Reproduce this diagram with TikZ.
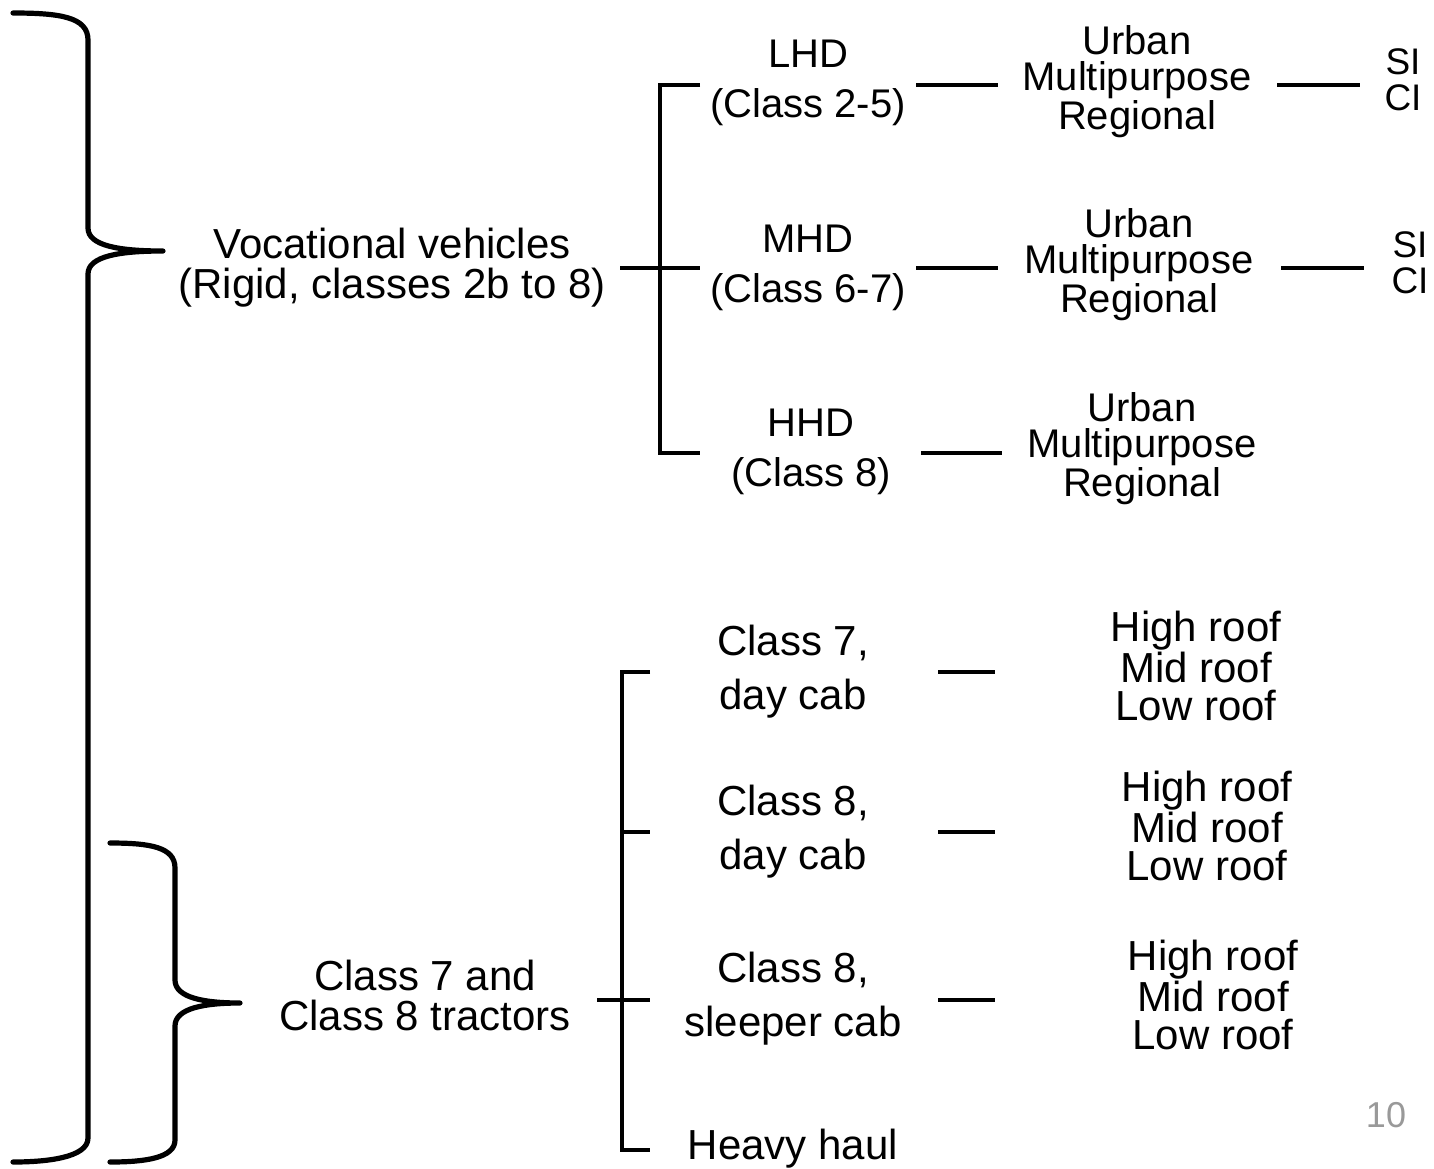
\documentclass[tikz,border=0pt]{standalone}
\usepackage{fontspec}
\setmainfont{Liberation Sans}
\begin{document}
\begin{tikzpicture}[x=0.5pt,y=-0.5pt,
  txt/.style={align=center,inner sep=0pt,font=\fontsize{21}{20}\selectfont},
  two/.style={align=center,inner sep=0pt,font=\fontsize{20}{25}\selectfont},
  twob/.style={align=center,inner sep=0pt,font=\fontsize{21}{27}\selectfont},
  three/.style={align=center,inner sep=0pt,font=\fontsize{20}{18}\selectfont},
  roof/.style={align=center,inner sep=0pt,font=\fontsize{21}{19.3}\selectfont},
  sici/.style={align=center,inner sep=0pt,font=\fontsize{18.5}{18}\selectfont},
  brace/.style={line width=2.6pt,line cap=round,line join=round},
  tree/.style={line width=2.2pt}]
\useasboundingbox (0,0) rectangle (1434,1168);

% braces
\draw[brace] (13,13) .. controls (60,13) and (88,17) .. (88,40) -- (88,228)
  .. controls (88,246) and (120,251) .. (163,251)
  .. controls (120,251) and (88,256) .. (88,274) -- (88,1138)
  .. controls (88,1158) and (45,1162) .. (13,1162);
\draw[brace] (110,843) .. controls (150,843) and (175,847) .. (175,868) -- (175,980)
  .. controls (175,998) and (205,1003) .. (240,1003)
  .. controls (205,1003) and (175,1008) .. (175,1026) -- (175,1140)
  .. controls (175,1158) and (145,1162) .. (110,1162);

% main nodes
\node[txt] (voc) at (392,268) {Vocational vehicles\\(Rigid, classes 2b to 8)};
\node[txt] (trac) at (425,995) {Class 7 and\\Class 8 tractors};

% vocational tree
\node[two] (lhd) at (808,83) {LHD\\(Class 2-5)};
\node[two] (mhd) at (808,268) {MHD\\(Class 6-7)};
\node[two] (hhd) at (811,452) {HHD\\(Class 8)};
\node[three] (u1) at (1137,82) {Urban\\Multipurpose\\Regional};
\node[three] (u2) at (1139,265) {Urban\\Multipurpose\\Regional};
\node[three] (u3) at (1142,449) {Urban\\Multipurpose\\Regional};
\node[sici] (s1) at (1403,80) {SI\\CI};
\node[sici] (s2) at (1410,263) {SI\\CI};

\coordinate (vj) at (660,268);
\coordinate (vt) at (660,85);
\coordinate (vb) at (660,453);
\draw[tree] (620,268) coordinate (vs) -- (vj);
\draw[tree] (700,85) -- (vt) -- (vb) -- (700,453);
\draw[tree] (vj) -- (700,268);
\draw[tree] (916,85) coordinate (a1) -- (998,85) coordinate (b1);
\draw[tree] (916,268) coordinate (a2) -- (998,268) coordinate (b2);
\draw[tree] (921,453) coordinate (a3) -- (1002,453) coordinate (b3);
\draw[tree] (1277,85) coordinate (c1) -- (1360,85) coordinate (d1);
\draw[tree] (1281,268) coordinate (c2) -- (1364,268) coordinate (d2);

% tractor tree
\node[twob] (c7) at (793,672) {Class 7,\\day cab};
\node[twob] (c8d) at (793,832) {Class 8,\\day cab};
\node[twob] (c8s) at (793,999) {Class 8,\\sleeper cab};
\node[txt] (hh) at (793,1149) {Heavy haul};
\node[roof] (r1) at (1196,666) {High roof\\Mid roof\\Low roof};
\node[roof] (r2) at (1207,826) {High roof\\Mid roof\\Low roof};
\node[roof] (r3) at (1213,995) {High roof\\Mid roof\\Low roof};

\coordinate (tj) at (622,1000);
\draw[tree] (597,1000) -- (tj) -- (650,1000);
\draw[tree] (650,672) -- (622,672) -- (622,1150) -- (650,1150);
\draw[tree] (622,832) -- (650,832);
\draw[tree] (938,672) coordinate (e1) -- (995,672) coordinate (f1);
\draw[tree] (938,832) coordinate (e2) -- (995,832) coordinate (f2);
\draw[tree] (938,1000) coordinate (e3) -- (995,1000) coordinate (f3);

% page number
\node[inner sep=0pt,text=black!40,font=\fontsize{18}{18}\selectfont] (pg) at (1386,1115) {10};
\end{tikzpicture}
\end{document}
